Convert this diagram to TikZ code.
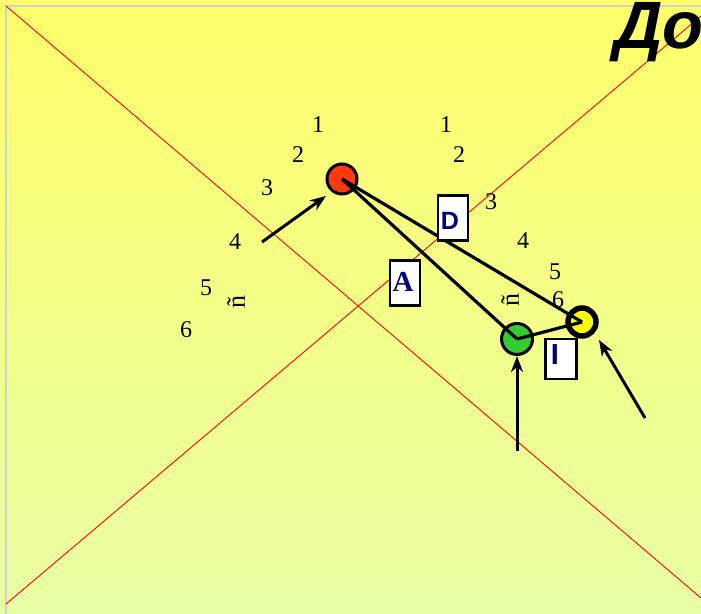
\documentclass[tikz,border=0pt]{standalone}
\usepackage{fontspec}
\setmainfont{Liberation Serif}
\newfontfamily\sansf{Liberation Sans}
\usetikzlibrary{arrows.meta}
\definecolor{topy}{HTML}{FFFF6A}
\definecolor{boty}{HTML}{E9FFA6}
\definecolor{navyt}{HTML}{000080}
\definecolor{redc}{HTML}{FF3A10}
\definecolor{greenc}{HTML}{33CC33}
\definecolor{yellowc}{HTML}{FFFF00}
\tikzset{
  num/.style={font=\fontsize{24}{24}\selectfont, inner sep=0pt},
  conn/.style={line width=3.2pt},
  arr/.style={line width=3pt, -{Stealth[length=16pt,width=12pt,inset=5pt]}},
  lbox/.style={draw=black, line width=2.6pt, fill=white, minimum width=30pt, minimum height=44pt, inner sep=0pt},
  diag/.style={red, line width=0.9pt},
}
\begin{document}
\begin{tikzpicture}[x=1pt,y=-1pt]
\useasboundingbox (0,0) rectangle (701,613);
\shade[top color=topy, bottom color=boty] (0,0) rectangle (701,613);
\draw[black!18, line width=1.6pt] (6,640) -- (6,6) -- (720,6);
% diagonals
\coordinate (d1a) at (6,6);
\coordinate (d1b) at (701,598);
\coordinate (d2a) at (6,604);
\coordinate (d2b) at (701,16);
\draw[diag] (d1a) -- (d1b);
\draw[diag] (d2a) -- (d2b);
% title
\node[anchor=base west, inner sep=0pt, font=\sansf\bfseries\itshape\fontsize{67}{67}\selectfont] (title) at (614,48) {До};
% circles
\node[circle, draw=black, line width=3pt, fill=redc, minimum size=30pt, inner sep=0pt] (red) at (342,179) {};
\node[circle, draw=black, line width=3pt, fill=greenc, minimum size=31pt, inner sep=0pt] (green) at (517,339) {};
\node[circle, draw=black, line width=5.5pt, fill=yellowc, minimum size=28pt, inner sep=0pt] (yellow) at (582,322) {};
% connectors
\draw[conn] (red.center) -- (green.center);
\draw[conn] (red.center) -- (yellow.center);
\draw[conn] (green.center) -- (yellow.center);
% arrows
\coordinate (a1) at (262,242);
\coordinate (a2) at (517,451);
\coordinate (a3) at (645,418);
\draw[arr] (a1) -- (326,196) coordinate (a1e);
\draw[arr] (a2) -- (green.south);
\draw[arr] (a3) -- (599,340) coordinate (a3e);
% boxes
\node[lbox, minimum height=45pt] (boxD) at (453,218) {};
\node[text=navyt, font=\sansf\bfseries\fontsize{25}{25}\selectfont, inner sep=0pt] (tD) at (450,221) {D};
\node[lbox, minimum height=45pt] (boxA) at (405,283) {};
\node[text=navyt, font=\bfseries\fontsize{29}{29}\selectfont, inner sep=0pt] (tA) at (403,282) {A};
\node[lbox, minimum width=31pt, minimum height=40pt] (boxI) at (561,359) {};
\node[text=navyt, font=\sansf\bfseries\fontsize{29}{29}\selectfont, inner sep=0pt] (tI) at (555,355) {I};
% numbers left
\node[num] (l1) at (318,125) {1};
\node[num] (l2) at (298,155) {2};
\node[num] (l3) at (267,188) {3};
\node[num] (l4) at (235,242) {4};
\node[num] (l5) at (206,288) {5};
\node[num] (l6) at (186,330) {6};
% numbers right
\node[num] (r1) at (446,125) {1};
\node[num] (r2) at (459,155) {2};
\node[num] (r3) at (491,202) {3};
\node[num] (r4) at (523,241) {4};
\node[num] (r5) at (555,272) {5};
\node[num] (r6) at (558,300) {6};
% rotated letters
\node[num, font=\fontsize{26}{26}\selectfont] (n1) at (236,302) {\rotatebox{90}{ñ}};
\node[num, font=\fontsize{26}{26}\selectfont] (n2) at (510,300) {\rotatebox{90}{ñ}};
\end{tikzpicture}
\end{document}
